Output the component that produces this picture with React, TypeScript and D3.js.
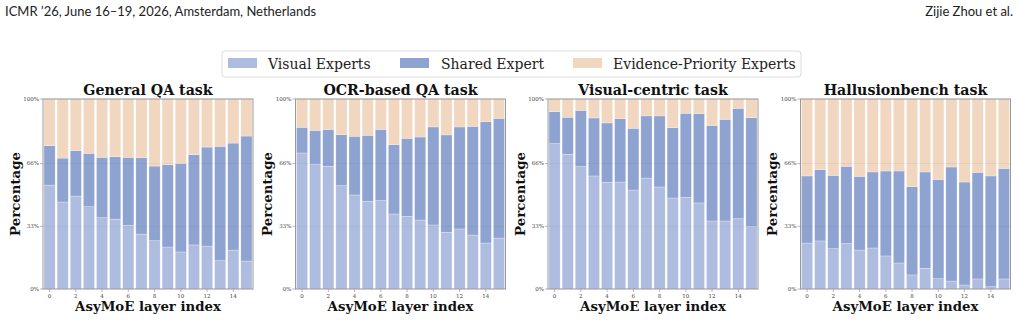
import React from "react";
import * as d3 from "d3";

// share of tokens routed to each expert group, per layer (percent)
const layers = d3.range(16);
const groups = ["Visual Experts", "Shared Expert", "Evidence-Priority Experts"];
const colors = ["#aebddf", "#8fa3d1", "#f1d6c0"];
const yTicks = [0, 33, 66, 100];
const xTicks = [0, 2, 4, 6, 8, 10, 12, 14];

const taskTitles = ["General QA task", "OCR-based QA task", "Visual-centric task", "Hallusionbench task"];

const generalVisual = [54.7, 45.8, 48.9, 43.3, 37.5, 36.8, 33.5, 28.9, 25.4, 22.1, 19.5, 23.2, 22.6, 14.9, 20.5, 14.7];
const generalShared = [20.7, 23.1, 23.9, 28.1, 31.8, 32.8, 35.8, 40.2, 39.3, 43.3, 46.6, 47.5, 52.1, 60.2, 56.3, 65.8];
const generalEvidence = [24.6, 31.1, 27.2, 28.6, 30.7, 30.4, 30.7, 30.9, 35.3, 34.6, 33.9, 29.3, 25.3, 24.9, 23.2, 19.5];

const ocrVisual = [71.6, 65.8, 64.6, 54.4, 49.5, 46.1, 46.5, 39.5, 38.2, 36.3, 33.7, 29.8, 31.6, 28.4, 24.2, 26.8];
const ocrShared = [13.5, 17.7, 19.4, 26.8, 30.9, 34.8, 37.5, 36.5, 41.1, 43.7, 51.6, 51.3, 53.7, 57.2, 63.9, 63.0];
const ocrEvidence = [14.9, 16.5, 16.0, 18.8, 19.6, 19.1, 16.0, 24.0, 20.7, 20.0, 14.7, 18.9, 14.7, 14.4, 11.9, 10.2];

const visualVisual = [76.5, 70.9, 64.4, 59.5, 56.1, 56.3, 52.1, 58.4, 53.7, 47.9, 48.2, 45.3, 35.8, 35.8, 37.0, 32.8];
const visualShared = [16.8, 19.5, 29.6, 30.5, 31.3, 33.3, 32.5, 32.7, 37.4, 37.0, 44.3, 47.0, 50.3, 53.5, 58.1, 57.4];
const visualEvidence = [6.7, 9.6, 6.0, 10.0, 12.6, 10.4, 15.4, 8.9, 8.9, 15.1, 7.5, 7.7, 13.9, 10.7, 4.9, 9.8];

const halluVisual = [24.2, 25.3, 21.2, 23.9, 20.5, 21.6, 17.4, 13.7, 7.4, 10.9, 5.4, 4.2, 2.1, 5.3, 1.2, 5.3];
const halluShared = [35.3, 37.5, 38.6, 40.7, 38.8, 40.0, 44.7, 48.4, 46.5, 50.7, 52.3, 60.0, 54.2, 56.1, 58.3, 58.2];
const halluEvidence = [40.5, 37.2, 40.2, 35.4, 40.7, 38.4, 37.9, 37.9, 46.1, 38.4, 42.3, 35.8, 43.7, 38.6, 40.5, 36.5];

const panels = [
  [generalVisual, generalShared, generalEvidence],
  [ocrVisual, ocrShared, ocrEvidence],
  [visualVisual, visualShared, visualEvidence],
  [halluVisual, halluShared, halluEvidence],
];

const serif = "'DejaVu Serif', serif";
const W = 1020;
const H = 320;
const plotTop = 99;
const plotBottom = 289;
const plotWidth = 210;
const plotLefts = [43, 295.5, 548, 800.5];

const Panel = ({ title, series, left }) => {
  const rows = layers.map((l) => ({
    layer: l,
    [groups[0]]: series[0][l],
    [groups[1]]: series[1][l],
    [groups[2]]: series[2][l],
  }));
  const stacked = d3.stack().keys(groups)(rows);

  const x = d3.scaleLinear().domain([-0.5, 15.5]).range([0, plotWidth]);
  const y = d3.scaleLinear().domain([0, 100]).range([plotBottom - plotTop, 0]);
  const barW = (x(1) - x(0)) * 0.85;
  const innerH = plotBottom - plotTop;

  return (
    <g transform={`translate(${left},${plotTop})`}>
      {stacked.map((layer, i) => (
        <g key={layer.key}>
          {layer.map((d, j) => (
            <rect
              key={j}
              x={x(j) - barW / 2}
              y={y(d[1])}
              width={barW}
              height={y(d[0]) - y(d[1])}
              fill={colors[i]}
              stroke="#ffffff"
              strokeOpacity={0.5}
              strokeWidth={0.5}
            />
          ))}
        </g>
      ))}
      {yTicks.map((t) => (
        <g key={t} transform={`translate(0,${y(t)})`}>
          <line x2={plotWidth} stroke="#000" strokeOpacity={0.05} />
          <line x1={-3} x2={0} stroke="#888" strokeWidth={0.6} />
          <text x={-4} dy="0.32em" textAnchor="end" fontFamily={serif} fontSize={5.5} fill="#444">
            {t}%
          </text>
        </g>
      ))}
      {xTicks.map((t) => (
        <g key={t} transform={`translate(${x(t)},${innerH})`}>
          <line y2={3} stroke="#888" strokeWidth={0.6} />
          <text y={8.5} textAnchor="middle" fontFamily={serif} fontSize={5.5} fill="#444">
            {t}
          </text>
        </g>
      ))}
      <rect x={0} y={0} width={plotWidth} height={innerH} fill="none" stroke="#999" strokeWidth={1} />
      <text
        x={plotWidth / 2}
        y={-4}
        textAnchor="middle"
        fontFamily={serif}
        fontWeight="bold"
        fontSize={14.2}
        fill="#111"
      >
        {title}
      </text>
      <text
        x={plotWidth / 2}
        y={innerH + 21.5}
        textAnchor="middle"
        fontFamily={serif}
        fontWeight="bold"
        fontSize={13.3}
        fill="#111"
      >
        AsyMoE layer index
      </text>
      <text
        transform={`translate(${-23.5},${innerH / 2}) rotate(-90)`}
        textAnchor="middle"
        fontFamily={serif}
        fontWeight="bold"
        fontSize={13.3}
        fill="#111"
      >
        Percentage
      </text>
    </g>
  );
};

const legendItems = [
  { label: groups[0], swatch: 228, text: 268 },
  { label: groups[1], swatch: 400, text: 441 },
  { label: groups[2], swatch: 573, text: 613 },
];

export default function App() {
  return (
    <svg width={W} height={H} style={{ position: "absolute", left: 0, top: 0, background: "#fff" }}>
      <text x={5} y={16} fontFamily="Lato, 'Open Sans', sans-serif" fontSize={13} fill="#222">
        ICMR ’26, June 16–19, 2026, Amsterdam, Netherlands
      </text>
      <text x={1013} y={16} textAnchor="end" fontFamily="Lato, 'Open Sans', sans-serif" fontSize={13} fill="#222">
        Zijie Zhou et al.
      </text>

      <rect x={222} y={51} width={579} height={26} rx={3} fill="#fff" stroke="#ddd" strokeWidth={1} />
      {legendItems.map((d, i) => (
        <g key={d.label}>
          <rect x={d.swatch} y={58} width={29} height={10} fill={colors[i]} />
          <text x={d.text} y={69} fontFamily={serif} fontSize={14} fill="#222">
            {d.label}
          </text>
        </g>
      ))}

      {panels.map((series, i) => (
        <Panel key={taskTitles[i]} title={taskTitles[i]} series={series} left={plotLefts[i]} />
      ))}
    </svg>
  );
}
